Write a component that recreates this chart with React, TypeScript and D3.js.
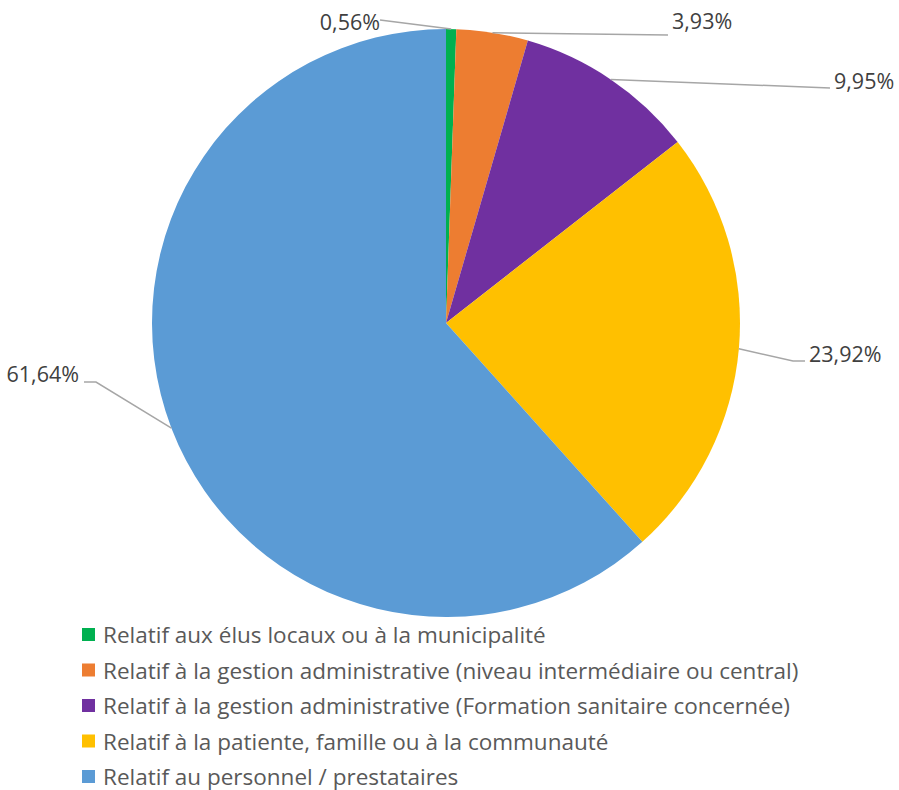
import React from "react";
import * as d3 from "d3";

const categories = [
  "Relatif aux élus locaux ou à la municipalité",
  "Relatif à la gestion administrative (niveau intermédiaire ou central)",
  "Relatif à la gestion administrative (Formation sanitaire concernée)",
  "Relatif à la patiente, famille ou à la communauté",
  "Relatif au personnel / prestataires",
];
const values = [0.56, 3.93, 9.95, 23.92, 61.64];
const valueLabels = ["0,56%", "3,93%", "9,95%", "23,92%", "61,64%"];
const colors = ["#00b050", "#ed7d31", "#7030a0", "#ffc000", "#5b9bd5"];

// label layout: elbow point, label anchor point, text-anchor
const labelLayout = [
  { ex: 380, ey: 20, tx: 380, ty: 21, anchor: "end" },
  { ex: 668, ey: 35, tx: 672, ty: 20, anchor: "start" },
  { ex: 830, ey: 88, tx: 834, ty: 80, anchor: "start" },
  { ex: 793, ey: 361, hx: 805, tx: 809, ty: 353, anchor: "start" },
  { ex: 96, ey: 382, hx: 84, tx: 79, ty: 373, anchor: "end" },
];

const W = 899;
const H = 790;
const cx = 446;
const cy = 323;
const R = 294;
const FONT = "'Open Sans', Lato, sans-serif";

export default function App() {
  const pie = d3.pie<number>().sort(null).value((d) => d);
  const arcs = pie(values);
  const arc = d3.arc<d3.PieArcDatum<number>>().innerRadius(0).outerRadius(R);

  return (
    <svg
      width={W}
      height={H}
      style={{ position: "absolute", left: 0, top: 0, background: "#fff" }}
      fontFamily={FONT}
    >
      <g transform={`translate(${cx},${cy})`}>
        {arcs.map((a, i) => (
          <path key={i} d={arc(a) || ""} fill={colors[i]} />
        ))}
      </g>
      {arcs.map((a, i) => {
        const mid = (a.startAngle + a.endAngle) / 2;
        const sx = cx + R * Math.sin(mid);
        const sy = cy - R * Math.cos(mid);
        const L = labelLayout[i] as any;
        const pts: [number, number][] = [[sx, sy], [L.ex, L.ey]];
        if (L.hx !== undefined) pts.push([L.hx, L.ey]);
        const line = d3.line()(pts) || "";
        return (
          <g key={i}>
            <path d={line} fill="none" stroke="#a6a6a6" strokeWidth={1.5} />
            <text
              x={L.tx}
              y={L.ty}
              textAnchor={L.anchor}
              dominantBaseline="central"
              fontSize={21.5}
              fill="#404040"
            >
              {valueLabels[i]}
            </text>
          </g>
        );
      })}
      <g>
        {categories.map((c, i) => {
          const y = 634.5 + i * 35.5;
          return (
            <g key={i}>
              <rect x={82} y={y - 6.5} width={13} height={13} fill={colors[i]} />
              <text
                x={103}
                y={y}
                dominantBaseline="central"
                fontSize={22.5}
                fill="#595959"
              >
                {c}
              </text>
            </g>
          );
        })}
      </g>
    </svg>
  );
}
